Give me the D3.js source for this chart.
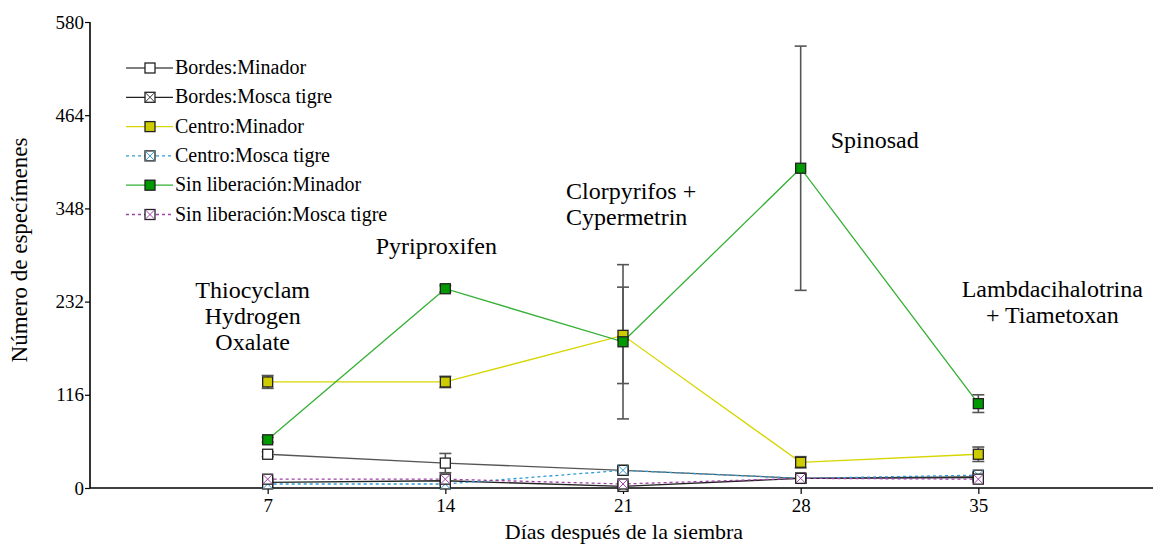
<!DOCTYPE html>
<html>
<head>
<meta charset="utf-8">
<script src="https://cdn.jsdelivr.net/npm/d3@7"></script>
<style>
  html, body { margin: 0; padding: 0; background: #fff; }
</style>
</head>
<body>
<svg id="chart" width="1153" height="546"></svg>
<script>
// Sampling days after sowing
const days = [7, 14, 21, 28, 35];
const yTicks = [0, 116, 232, 348, 464, 580];

// Mean counts per series
const bordesMinador      = [42, 31, 22, 12, 14];
const bordesMosca        = [7, 9, 2, 12, 13];
const centroMinador      = [132, 132, 190, 32, 42];
const centroMosca        = [5, 5, 22, 12, 16];
const sinLibMinador      = [60, 248, 182, 398, 105];
const sinLibMosca        = [11, 11, 5, 12, 11];

// Error-bar half widths (0 = none drawn)
const bordesMinadorErr   = [3, 12, 2, 0, 0];
const centroMinadorErr   = [8, 7, 60, 7, 9];
const sinLibMinadorErr   = [3, 4, 96, 152, 11];

// Insecticide applied at each date
const treatments = [
  { day: 7,  lines: ["Thiocyclam", "Hydrogen", "Oxalate"], anchor: "middle", dx: -15, y: 298 },
  { day: 14, lines: ["Pyriproxifen"], anchor: "middle", dx: -9, y: 254 },
  { day: 21, lines: ["Clorpyrifos +", "Cypermetrin"], anchor: "start", dx: -57, y: 199 },
  { day: 28, lines: ["Spinosad"], anchor: "start", dx: 30, y: 148 },
  { day: 35, lines: ["Lambdacihalotrina", "+ Tiametoxan"], anchor: "middle", dx: 74, y: 297 }
];

const series = [
  { name: "Bordes:Minador", values: bordesMinador, err: bordesMinadorErr, line: "#555", dash: null, fill: "#fff", cross: null },
  { name: "Bordes:Mosca tigre", values: bordesMosca, err: null, line: "#222", dash: null, fill: "#fff", cross: "#333" },
  { name: "Centro:Minador", values: centroMinador, err: centroMinadorErr, line: "#d6d600", dash: null, fill: "#cccc00", cross: null },
  { name: "Centro:Mosca tigre", values: centroMosca, err: null, line: "#2f9bd4", dash: "3,3", fill: "#fff", cross: "#2f9bd4" },
  { name: "Sin liberación:Minador", values: sinLibMinador, err: sinLibMinadorErr, line: "#35b035", dash: null, fill: "#009900", cross: null },
  { name: "Sin liberación:Mosca tigre", values: sinLibMosca, err: null, line: "#a040a8", dash: "3,3", fill: "#fff", cross: "#a040a8" }
];

const FONT = `"Liberation Serif"`;
const svg = d3.select("#chart");
const x = d3.scaleLinear().domain([0, 42]).range([90, 1156]);
const y = d3.scaleLinear().domain([0, 580]).range([488, 22]);

// Axes
const yAxis = svg.append("g").attr("transform", "translate(90,0)")
  .call(d3.axisLeft(y).tickValues(yTicks).tickSize(5).tickPadding(1).tickFormat(d3.format("d")));
const xAxis = svg.append("g").attr("transform", "translate(0,488)")
  .call(d3.axisBottom(x).tickValues(days).tickSize(6).tickPadding(5).tickFormat(d3.format("d")));
[yAxis, xAxis].forEach(g => {
  g.attr("font-family", null).attr("font-size", null);
  g.select(".domain").attr("stroke", "#000").attr("stroke-width", 1.6);
  g.selectAll(".tick line").attr("stroke", "#000").attr("stroke-width", 1.2);
  g.selectAll(".tick text").attr("fill", "#000").style("font-size", "19px").style("font-family", FONT);
});
yAxis.select(".domain").attr("d", "M0,22V488");
xAxis.select(".domain").attr("d", "M90,0H1153");

svg.append("text").attr("x", 624).attr("y", 539).attr("text-anchor", "middle")
  .style("font-size", "22px").style("font-family", FONT).text("Días después de la siembra");
svg.append("text").attr("transform", "translate(27,250) rotate(-90)").attr("text-anchor", "middle")
  .style("font-size", "23px").style("font-family", FONT).text("Número de especímenes");

// Lines
const lineGen = d3.line().x((d, i) => x(days[i])).y(d => y(d));
const plot = svg.append("g");
series.forEach(s => {
  plot.append("path").datum(s.values).attr("d", lineGen)
    .attr("fill", "none").attr("stroke", s.line).attr("stroke-width", 1.3)
    .attr("stroke-dasharray", s.dash);
});

// Error bars
series.filter(s => s.err).forEach(s => {
  s.values.forEach((v, i) => {
    const e = s.err[i];
    if (!e) return;
    const cx = x(days[i]);
    const g = plot.append("g").attr("stroke", "#555").attr("stroke-width", 1.6);
    g.append("line").attr("x1", cx).attr("x2", cx).attr("y1", y(v + e)).attr("y2", y(v - e));
    g.append("line").attr("x1", cx - 6).attr("x2", cx + 6).attr("y1", y(v + e)).attr("y2", y(v + e));
    g.append("line").attr("x1", cx - 6).attr("x2", cx + 6).attr("y1", y(v - e)).attr("y2", y(v - e));
  });
});

// Markers
function marker(g, cx, cy, s) {
  const h = 5;
  g.append("rect").attr("x", cx - h).attr("y", cy - h).attr("width", 2 * h).attr("height", 2 * h)
    .attr("fill", s.fill).attr("stroke", "#222").attr("stroke-width", 1.3);
  if (s.cross) {
    g.append("path").attr("d", `M${cx - h},${cy - h}L${cx + h},${cy + h}M${cx + h},${cy - h}L${cx - h},${cy + h}`)
      .attr("stroke", s.cross).attr("stroke-width", 1);
  }
}
series.forEach(s => {
  s.values.forEach((v, i) => marker(plot, x(days[i]), y(v), s));
});

// Legend
const legend = svg.append("g");
series.forEach((s, i) => {
  const ly = 68 + i * 29.3;
  legend.append("line").attr("x1", 126).attr("x2", 173).attr("y1", ly).attr("y2", ly)
    .attr("stroke", s.line).attr("stroke-width", 1.3).attr("stroke-dasharray", s.dash);
  marker(legend, 150, ly, s);
  legend.append("text").attr("x", 175).attr("y", ly + 6).style("font-size", "20px")
    .style("font-family", FONT).text(s.name);
});

// Treatment annotations
treatments.forEach(t => {
  const txt = svg.append("text").attr("text-anchor", t.anchor).style("font-size", "24px").style("font-family", FONT);
  t.lines.forEach((l, j) => {
    txt.append("tspan").attr("x", x(t.day) + t.dx).attr("y", t.y + j * 26).text(l);
  });
});
</script>
</body>
</html>
